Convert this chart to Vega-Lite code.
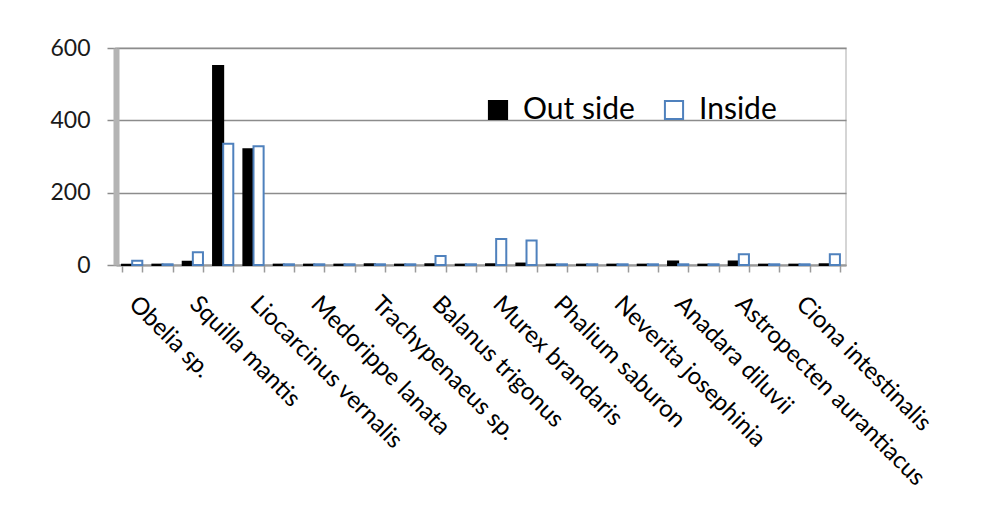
{
  "$schema": "https://vega.github.io/schema/vega-lite/v6.json",
  "width": 730,
  "height": 217,
  "autosize": {"type": "none"},
  "padding": {"left": 116, "top": 48, "right": 143, "bottom": 257},
  "background": "white",
  "config": {
    "font": "Lato",
    "view": {"stroke": "#c8c8c8", "strokeWidth": 1.5}
  },
  "data": {
    "values": [
      {"species": "Obelia sp.", "site": "Out side", "count": 1},
      {"species": "Obelia sp.", "site": "Inside", "count": 12},
      {"species": "taxon 2", "site": "Out side", "count": 1},
      {"species": "taxon 2", "site": "Inside", "count": 2},
      {"species": "Squilla mantis", "site": "Out side", "count": 9},
      {"species": "Squilla mantis", "site": "Inside", "count": 35},
      {"species": "taxon 4", "site": "Out side", "count": 550},
      {"species": "taxon 4", "site": "Inside", "count": 335},
      {"species": "Liocarcinus vernalis", "site": "Out side", "count": 320},
      {"species": "Liocarcinus vernalis", "site": "Inside", "count": 328},
      {"species": "taxon 6", "site": "Out side", "count": 1},
      {"species": "taxon 6", "site": "Inside", "count": 2},
      {"species": "Medorippe lanata", "site": "Out side", "count": 1},
      {"species": "Medorippe lanata", "site": "Inside", "count": 2},
      {"species": "taxon 8", "site": "Out side", "count": 1},
      {"species": "taxon 8", "site": "Inside", "count": 2},
      {"species": "Trachypenaeus sp.", "site": "Out side", "count": 2},
      {"species": "Trachypenaeus sp.", "site": "Inside", "count": 2},
      {"species": "taxon 10", "site": "Out side", "count": 1},
      {"species": "taxon 10", "site": "Inside", "count": 2},
      {"species": "Balanus trigonus", "site": "Out side", "count": 2},
      {"species": "Balanus trigonus", "site": "Inside", "count": 25},
      {"species": "taxon 12", "site": "Out side", "count": 1},
      {"species": "taxon 12", "site": "Inside", "count": 2},
      {"species": "Murex brandaris", "site": "Out side", "count": 2},
      {"species": "Murex brandaris", "site": "Inside", "count": 72},
      {"species": "taxon 14", "site": "Out side", "count": 4},
      {"species": "taxon 14", "site": "Inside", "count": 68},
      {"species": "Phalium saburon", "site": "Out side", "count": 1},
      {"species": "Phalium saburon", "site": "Inside", "count": 2},
      {"species": "taxon 16", "site": "Out side", "count": 1},
      {"species": "taxon 16", "site": "Inside", "count": 2},
      {"species": "Neverita josephinia", "site": "Out side", "count": 1},
      {"species": "Neverita josephinia", "site": "Inside", "count": 2},
      {"species": "taxon 18", "site": "Out side", "count": 1},
      {"species": "taxon 18", "site": "Inside", "count": 2},
      {"species": "Anadara diluvii", "site": "Out side", "count": 10},
      {"species": "Anadara diluvii", "site": "Inside", "count": 2},
      {"species": "taxon 20", "site": "Out side", "count": 1},
      {"species": "taxon 20", "site": "Inside", "count": 2},
      {"species": "Astropecten aurantiacus", "site": "Out side", "count": 10},
      {"species": "Astropecten aurantiacus", "site": "Inside", "count": 30},
      {"species": "taxon 22", "site": "Out side", "count": 1},
      {"species": "taxon 22", "site": "Inside", "count": 2},
      {"species": "Ciona intestinalis", "site": "Out side", "count": 1},
      {"species": "Ciona intestinalis", "site": "Inside", "count": 2},
      {"species": "taxon 24", "site": "Out side", "count": 2},
      {"species": "taxon 24", "site": "Inside", "count": 30}
    ]
  },
  "mark": {"type": "bar", "strokeWidth": 2},
  "encoding": {
    "x": {
      "field": "species",
      "type": "nominal",
      "sort": null,
      "scale": {"paddingInner": 0.333, "paddingOuter": 0.2},
      "axis": {
        "title": null,
        "labelAngle": 45,
        "labelAlign": "left",
        "labelBaseline": "middle",
        "labelPadding": 28,
        "labelFontSize": 24,
        "labelLimit": 400,
        "labelColor": "#000000",
        "labelOverlap": false,
        "labelExpr": "test(/^taxon/, '' + datum.label) ? '' : datum.label",
        "domainColor": "#9a9a9a",
        "domainWidth": 2,
        "tickColor": "#9a9a9a",
        "tickWidth": 1.5,
        "tickSize": 7,
        "tickBand": "extent"
      }
    },
    "xOffset": {"field": "site", "type": "nominal", "sort": ["Out side", "Inside"]},
    "y": {
      "field": "count",
      "type": "quantitative",
      "scale": {"domain": [0, 600]},
      "axis": {
        "title": null,
        "values": [0, 200, 400, 600],
        "grid": true,
        "gridColor": "#8c8c8c",
        "gridWidth": 1.5,
        "domainColor": "#b4b4b4",
        "domainWidth": 6,
        "tickColor": "#8c8c8c",
        "tickWidth": 1.5,
        "tickSize": 9,
        "labelFontSize": 23,
        "labelPadding": 17,
        "labelColor": "#1a1a1a"
      }
    },
    "fill": {
      "field": "site",
      "type": "nominal",
      "scale": {"domain": ["Out side", "Inside"], "range": ["#000000", "#ffffff"]},
      "legend": {
        "title": null,
        "orient": "none",
        "legendX": 367,
        "legendY": 47,
        "direction": "horizontal",
        "symbolType": "square",
        "symbolSize": 330,
        "symbolStrokeWidth": 2,
        "labelFontSize": 30,
        "labelOffset": 10,
        "labelColor": "#000000",
        "columnPadding": 24
      }
    },
    "stroke": {
      "field": "site",
      "type": "nominal",
      "scale": {"domain": ["Out side", "Inside"], "range": ["#000000", "#4F81BD"]}
    }
  }
}
